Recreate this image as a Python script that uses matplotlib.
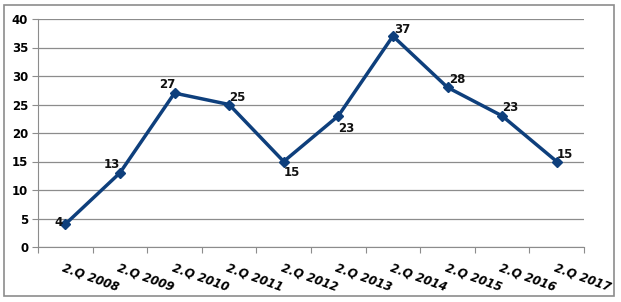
import numpy as np
import matplotlib.pyplot as plt
from matplotlib.patches import Rectangle

categories = ["2.Q 2008", "2.Q 2009", "2.Q 2010", "2.Q 2011", "2.Q 2012",
              "2.Q 2013", "2.Q 2014", "2.Q 2015", "2.Q 2016", "2.Q 2017"]
values = [4, 13, 27, 25, 15, 23, 37, 28, 23, 15]
# label offsets in points (dx, dy)
offsets = [(-5, 1), (-6, 6), (-5, 6), (6, 5), (6, -8), (6, -9),
           (7, 5), (7, 6), (6, 6), (6, 5)]

color = "#0E3F7C"
fig = plt.figure(figsize=(6.21, 3.02), dpi=100)
fig.patches.append(Rectangle((4 / 621, 6 / 302), 610 / 621, 291 / 302,
                             transform=fig.transFigure, fill=False,
                             edgecolor="#8c8c8c", linewidth=1.2))
ax = fig.add_axes([38 / 621, 55 / 302, 546 / 621, 228 / 302])

x = np.arange(len(values)) + 0.5
ax.plot(x, values, color=color, linewidth=2.5, marker="D", markersize=5)
for xi, v, (dx, dy) in zip(x, values, offsets):
    ax.annotate(str(v), (xi, v), xytext=(dx, dy), textcoords="offset points",
                ha="center", va="center", fontsize=8.5, fontweight="bold",
                color="#111111")

ax.set_xlim(0, len(values))
ax.set_ylim(0, 40)
ax.set_yticks(np.arange(0, 41, 5))
ax.set_xticks(np.arange(len(values) + 1))
ax.set_xticklabels([])
ax.set_xticks(x, minor=True)
ax.set_xticklabels(categories, minor=True, rotation=-20, ha="left", va="top",
                   rotation_mode="anchor", fontsize=8.5, fontweight="bold",
                   fontstyle="italic")
ax.tick_params(axis="x", which="minor", length=0, pad=10)
ax.tick_params(axis="x", which="major", length=4, color="#8c8c8c")
ax.tick_params(axis="y", length=4, color="#8c8c8c", labelsize=8.5, pad=3)
for lab in ax.get_yticklabels():
    lab.set_fontweight("bold")
ax.grid(axis="y", color="#8c8c8c", linewidth=0.9)
ax.set_axisbelow(True)
for s in ["top", "right"]:
    ax.spines[s].set_visible(False)
for s in ["left", "bottom"]:
    ax.spines[s].set_color("#8c8c8c")

fig.savefig("out.png", dpi=100)
